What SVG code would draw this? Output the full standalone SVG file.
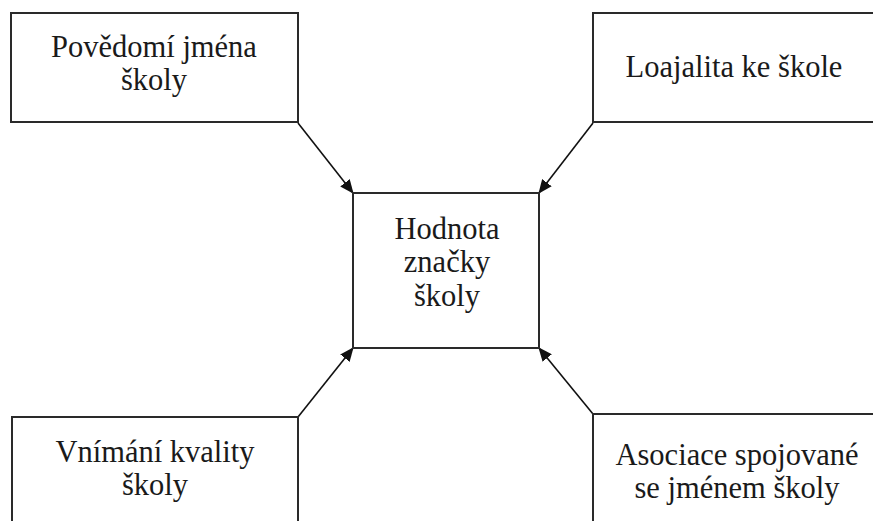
<svg xmlns="http://www.w3.org/2000/svg" width="873" height="521" viewBox="0 0 873 521">
<style>
.box{fill:#fff;stroke:#2a2a2a;stroke-width:2}
.t{font-family:"Liberation Serif","Times New Roman",serif;font-size:30.5px;fill:#1a1a1a;text-anchor:middle}
.c{stroke:#111;stroke-width:1.6;fill:none;marker-end:url(#ah)}
</style>
<defs>
<marker id="ah" markerWidth="14" markerHeight="12" refX="13" refY="6" orient="auto" markerUnits="userSpaceOnUse">
<path d="M0,0 L14,6 L0,12 Z" fill="#111"/>
</marker>
</defs>
<rect width="873" height="521" fill="#fff"/>
<g id="connectors">
<line class="c" x1="298" y1="123" x2="353" y2="193"/>
<line class="c" x1="593" y1="123" x2="539" y2="193"/>
<line class="c" x1="298" y1="417" x2="353" y2="348"/>
<line class="c" x1="593" y1="414" x2="539" y2="348"/>
</g>
<g id="povedomi">
<rect class="box" x="11" y="13" width="287" height="109"/>
<text class="t" x="154" y="57">Povědomí jména</text>
<text class="t" x="154" y="90">školy</text>
</g>
<g id="loajalita">
<rect class="box" x="593" y="13" width="290" height="109"/>
<text class="t" x="734" y="77">Loajalita ke škole</text>
</g>
<g id="hodnota">
<rect class="box" x="353" y="193" width="186" height="155"/>
<text class="t" x="447" y="239">Hodnota</text>
<text class="t" x="447" y="272">značky</text>
<text class="t" x="447" y="306">školy</text>
</g>
<g id="vnimani">
<rect class="box" x="12" y="417" width="286" height="120"/>
<text class="t" x="155" y="462">Vnímání kvality</text>
<text class="t" x="155" y="495">školy</text>
</g>
<g id="asociace">
<rect class="box" x="593" y="414" width="290" height="120"/>
<text class="t" x="737" y="465">Asociace spojované</text>
<text class="t" x="737" y="498">se jménem školy</text>
</g>
</svg>
